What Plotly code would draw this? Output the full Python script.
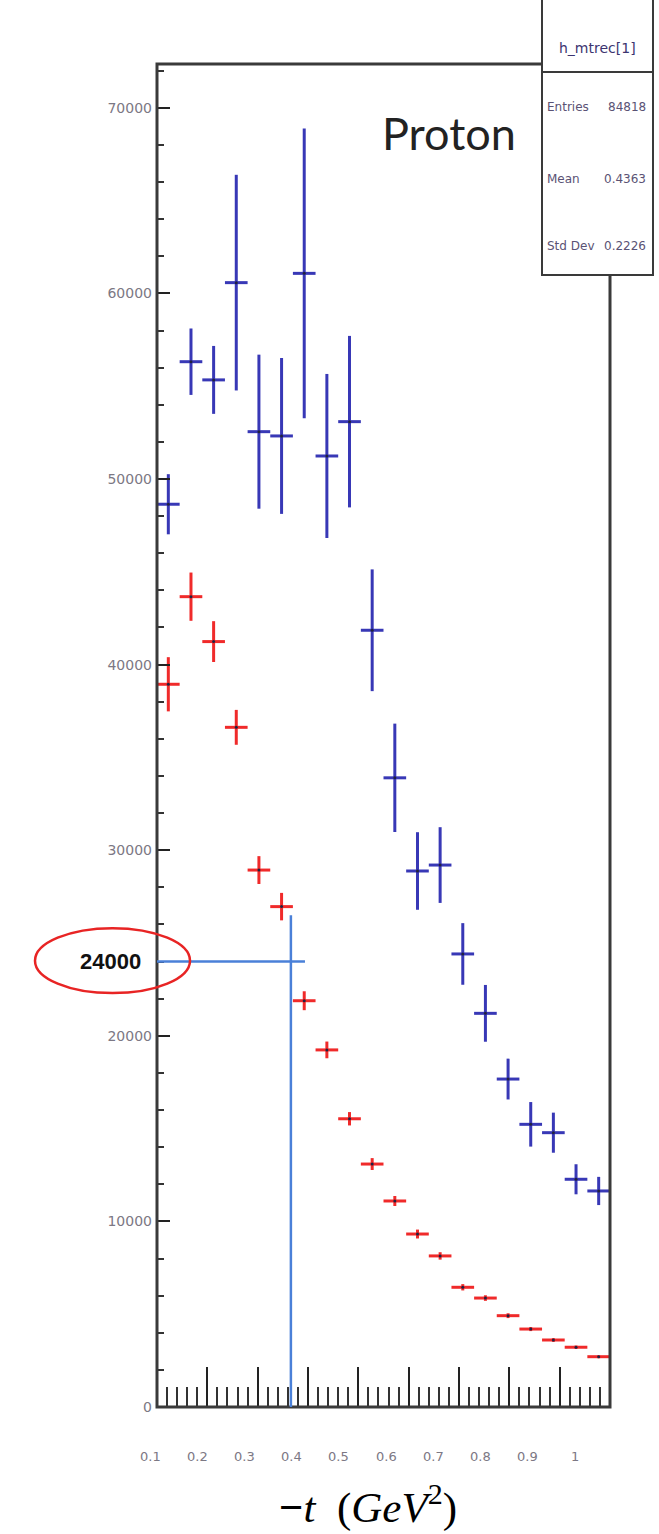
import plotly.graph_objects as go

# -t binning: 20 bins of width 0.045 from 0.1 to 1.0
t_centres = [0.1225, 0.1675, 0.2125, 0.2575, 0.3025, 0.3475, 0.3925, 0.4375,
             0.4825, 0.5275, 0.5725, 0.6175, 0.6625, 0.7075, 0.7525, 0.7975,
             0.8425, 0.8875, 0.9325, 0.9775]
half_bin = [0.0225] * 20

# blue histogram (counts and statistical errors)
blue_counts = [48640, 56320, 55340, 60580, 52550, 52320, 61080, 51240, 53090, 41850,
               33900, 28880, 29200, 24410, 21210, 17670, 15230, 14780, 12270, 11640]
blue_errs = [1620, 1790, 1830, 5810, 4150, 4200, 7810, 4420, 4620, 3280,
             2920, 2090, 2040, 1660, 1530, 1100, 1200, 1080, 810, 760]

# red histogram
red_counts = [38940, 43660, 41240, 36620, 28930, 26960, 21890, 19240, 15530, 13090,
              11100, 9320, 8140, 6450, 5870, 4920, 4200, 3610, 3220, 2710]
red_errs = [1460, 1300, 1100, 940, 750, 740, 510, 450, 360, 320,
            270, 240, 200, 170, 150, 130, 110, 100, 90, 80]

# axis tick labels
x_tick_vals = [0.1, 0.2, 0.3, 0.4, 0.5, 0.6, 0.7, 0.8, 0.9, 1.0]
x_tick_text = ["0.1", "0.2", "0.3", "0.4", "0.5", "0.6", "0.7", "0.8", "0.9", "1"]
y_tick_vals = [0, 10000, 20000, 30000, 40000, 50000, 60000, 70000]
y_tick_text = ["0", "10000", "20000", "30000", "40000", "50000", "60000", "70000"]

# marked reading on the red curve
marked_count = 24000
marked_t = 0.366
marked_top = 26500
marked_right = 0.394

# statistics box
stats_title = "h_mtrec[1]"
stats_rows = [("Entries", "84818"), ("Mean", "0.4363"), ("Std Dev", "0.2226")]

W, H = 659, 1534
L, R, T, B = 157, 49, 64, 127
PW, PH = W - L - R, H - T - B


def px(x):
    return (x - L) / PW


def py(y):
    return (H - B - y) / PH


BLUE = "#3838b6"
RED = "#f02a2a"
TXT_GREY = "#7c7884"

fig = go.Figure()


def add_hist(counts, errs, colour):
    fig.add_trace(go.Scatter(
        x=t_centres, y=counts, mode="markers",
        marker=dict(size=3, color="#202040"),
        error_y=dict(type="data", array=errs, color=colour, thickness=3, width=0),
        error_x=dict(type="data", array=half_bin, color=colour, thickness=3, width=0),
        showlegend=False, hoverinfo="x+y",
    ))


add_hist(blue_counts, blue_errs, BLUE)
add_hist(red_counts, red_errs, RED)

shapes = [
    # frame of the pad
    dict(type="rect", xref="paper", yref="paper", x0=0, x1=1, y0=0, y1=1,
         line=dict(color="#3a3a3a", width=3), layer="above"),
    # reading lines
    dict(type="line", xref="x", yref="y", x0=0.1, x1=marked_right,
         y0=marked_count, y1=marked_count, line=dict(color="#4a80d8", width=2.5)),
    dict(type="line", xref="x", yref="y", x0=marked_t, x1=marked_t,
         y0=0, y1=marked_top, line=dict(color="#4a80d8", width=2.5)),
    # ellipse around the value
    dict(type="circle", xref="paper", yref="y", x0=px(35), x1=px(190),
         y0=marked_count - 1700, y1=marked_count + 1800,
         line=dict(color="#e82424", width=2.5), layer="above"),
    # statistics box
    dict(type="rect", xref="paper", yref="paper", x0=px(542), x1=px(653),
         y0=py(275), y1=py(-10), fillcolor="white",
         line=dict(color="#3a3a3a", width=2), layer="above"),
    dict(type="line", xref="paper", yref="paper", x0=px(542), x1=px(653),
         y0=py(72), y1=py(72), line=dict(color="#3a3a3a", width=2), layer="above"),
]

annotations = []
# x tick labels
for v, s in zip(x_tick_vals, x_tick_text):
    annotations.append(dict(
        xref="paper", yref="paper", x=px(150 + (v - 0.1) * 472.2), y=py(1456),
        text=s, showarrow=False, xanchor="center", yanchor="middle",
        font=dict(family="DejaVu Sans", size=13, color=TXT_GREY)))

annotations += [
    dict(xref="paper", yref="y", x=px(110), y=marked_count, text="<b>24000</b>",
         showarrow=False, xanchor="center", yanchor="middle",
         font=dict(family="Liberation Sans", size=22, color="#111111")),
    dict(xref="paper", yref="paper", x=px(449), y=py(133), text="Proton",
         showarrow=False, xanchor="center", yanchor="middle",
         font=dict(family="Lato", size=45, color="#222222")),
    dict(xref="paper", yref="paper", x=px(368), y=py(1533),
         text="<b>\u2212</b><i>t</i>\u00a0\u00a0(<i>GeV</i><sup>2</sup>)",
         showarrow=False, xanchor="center", yanchor="bottom", borderpad=0,
         font=dict(family="Liberation Serif", size=43, color="#000000")),
    dict(xref="paper", yref="paper", x=px(597), y=py(48), text=stats_title,
         showarrow=False, xanchor="center", yanchor="middle",
         font=dict(family="DejaVu Sans", size=14, color="#3c3470")),
]
for (name, val), yy in zip(stats_rows, [107, 179, 246]):
    annotations.append(dict(xref="paper", yref="paper", x=px(545), y=py(yy), text=name,
                            showarrow=False, xanchor="left", yanchor="middle",
                            font=dict(family="DejaVu Sans", size=12, color="#5a5274")))
    annotations.append(dict(xref="paper", yref="paper", x=px(648), y=py(yy), text=val,
                            showarrow=False, xanchor="right", yanchor="middle",
                            font=dict(family="DejaVu Sans", size=12, color="#5a5274")))

fig.update_layout(
    width=W, height=H,
    margin=dict(l=L, r=R, t=T, b=B, pad=0),
    paper_bgcolor="white", plot_bgcolor="white",
    shapes=shapes, annotations=annotations,
    xaxis=dict(range=[0.1, 1.0], showgrid=False, zeroline=False, showline=False,
               ticks="inside", ticklen=40, tickwidth=2, tickcolor="#222222",
               tick0=0.1, dtick=0.1, showticklabels=False,
               minor=dict(ticks="inside", ticklen=20, tickwidth=2, tickcolor="#333333",
                          dtick=0.02, tick0=0.1)),
    yaxis=dict(range=[0, 72360], showgrid=False, zeroline=False, showline=False,
               ticks="inside", ticklen=13, tickwidth=2, tickcolor="#222222",
               tickvals=y_tick_vals, ticktext=y_tick_text,
               tickfont=dict(family="DejaVu Sans", size=14, color=TXT_GREY),
               ticklabelstandoff=4,
               minor=dict(ticks="inside", ticklen=7, tickwidth=2, tickcolor="#333333",
                          dtick=2000, tick0=0)),
)

fig.write_html("out.html")
